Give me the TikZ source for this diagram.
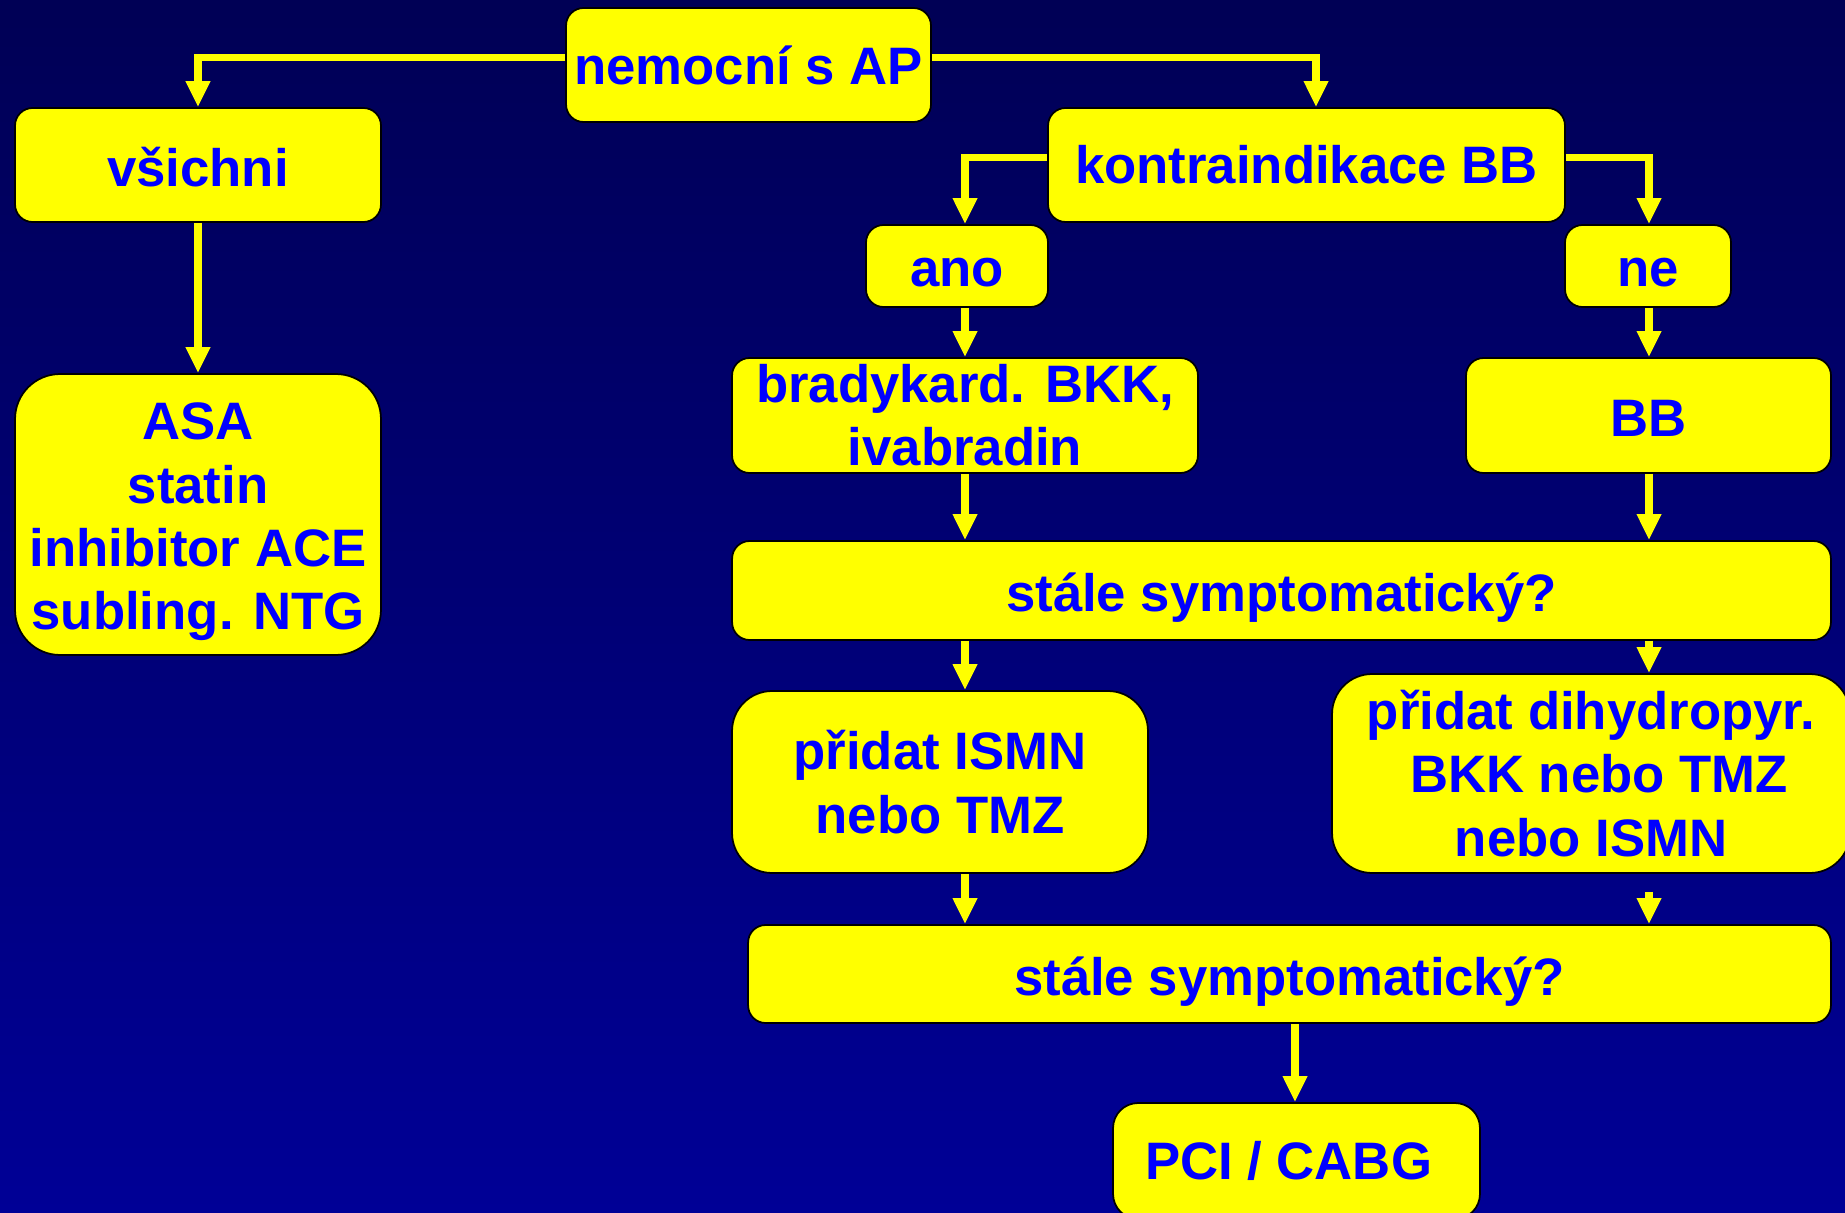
\documentclass[tikz,border=0pt]{standalone}
\usepackage{fontspec}
\setmainfont{Liberation Sans}
\usetikzlibrary{arrows.meta}
\definecolor{bgtop}{RGB}{0,0,85}
\definecolor{bgbot}{RGB}{0,0,150}
\definecolor{txtblue}{RGB}{0,0,255}
\definecolor{boxyellow}{RGB}{255,255,0}
\newcommand\dnstrut[1]{\rule{0pt}{#1}}
\begin{document}
\begin{tikzpicture}[x=0.02cm,y=-0.02cm,
  box/.style={draw=black, line width=1pt, fill=boxyellow, text=txtblue,
    font=\fontsize{30}{36}\selectfont\bfseries, align=center, inner sep=0pt,
    rounded corners=0.35cm},
  conn/.style={draw=boxyellow, line width=0.15cm,
    -{Triangle[width=0.46cm,length=0.52cm]}}]

\shade[top color=bgtop,bottom color=bgbot] (0,0) rectangle (1845,1213);
\useasboundingbox (0,0) rectangle (1845,1213);

% column / level helpers
\coordinate (hA) at (0,57.5);
\coordinate (hB) at (0,157.5);
\coordinate (cK) at (1316,0);
\coordinate (cL) at (965,0);
\coordinate (cR) at (1649,0);
\coordinate (cP) at (1295,0);

\node[box, minimum width=7.3cm, minimum height=2.28cm] (nemo) at (748.5,65) {nemocní s AP};
\node[box, minimum width=7.32cm, minimum height=2.28cm] (vsi) at (198,165) {\dnstrut{25pt}všichni};
\node[box, minimum width=7.32cm, minimum height=5.62cm, rounded corners=0.9cm] (asa) at (198,514.5) {\dnstrut{29.5pt}ASA\\statin\\inhibitor ACE\\subling. NTG};
\node[box, minimum width=10.34cm, minimum height=2.28cm] (kon) at (1306.5,165) {kontraindikace BB};
\node[box, minimum width=3.64cm, minimum height=1.64cm] (ano) at (957,266) {\dnstrut{23.6pt}ano};
\node[box, minimum width=3.32cm, minimum height=1.64cm] (ne) at (1648,266) {\dnstrut{23.6pt}ne};
\node[box, minimum width=9.32cm, minimum height=2.3cm] (bra) at (965,415.5) {bradykard. BKK,\\ivabradin};
\node[box, minimum width=7.3cm, minimum height=2.3cm] (bb) at (1648.5,415.5) {\dnstrut{24pt}BB};
\node[box, minimum width=21.98cm, minimum height=1.98cm] (st1) at (1281.5,590.5) {\dnstrut{30.5pt}stále symptomatický?};
\node[box, minimum width=8.32cm, minimum height=3.64cm, rounded corners=0.8cm] (isn) at (940,782) {přidat ISMN\\nebo TMZ};
\node[box, minimum width=10.36cm, minimum height=3.98cm, rounded corners=0.8cm] (dih) at (1591,773.5) {přidat dihydropyr.\\\hspace*{0.3em}BKK nebo TMZ\\nebo ISMN};
\node[box, minimum width=21.66cm, minimum height=1.96cm] (st2) at (1289.5,974) {\dnstrut{30.5pt}stále symptomatický?};
\node[box, minimum width=7.34cm, minimum height=2.32cm, rounded corners=0.5cm] (pci) at (1296.5,1161) {PCI / CABG\hspace*{0.3em}};

\draw[conn] (nemo.west |- hA) -| (vsi.north);
\draw[conn] (nemo.east |- hA) -| (kon.north -| cK);
\draw[conn] (vsi.south) -- (asa.north);
\draw[conn] (kon.west |- hB) -| (ano.north -| cL);
\draw[conn] (kon.east |- hB) -| (ne.north -| cR);
\draw[conn] (ano.south -| cL) -- (bra.north -| cL);
\draw[conn] (ne.south -| cR) -- (bb.north -| cR);
\draw[conn] (bra.south -| cL) -- (st1.north -| cL);
\draw[conn] (bb.south -| cR) -- (st1.north -| cR);
\draw[conn] (st1.south -| cL) -- (isn.north -| cL);
\draw[conn] (st1.south -| cR) -- (dih.north -| cR);
\draw[conn] (isn.south -| cL) -- (st2.north -| cL);
\draw[conn, shorten <=0.36cm] (dih.south -| cR) -- (st2.north -| cR);
\draw[conn] (st2.south -| cP) -- (pci.north -| cP);
\end{tikzpicture}
\end{document}
